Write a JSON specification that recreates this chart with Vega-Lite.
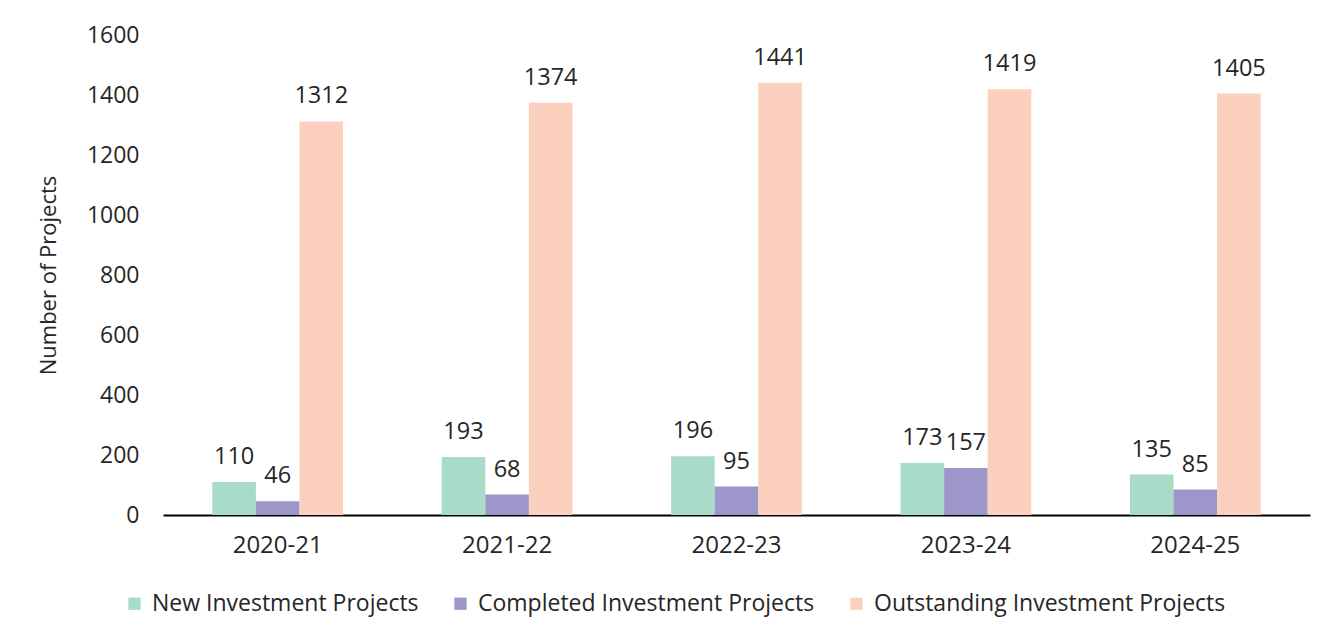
{
  "$schema": "https://vega.github.io/schema/vega-lite/v6.json",
  "width": 1147,
  "height": 480,
  "autosize": {"type": "none"},
  "padding": {"left": 163, "top": 35, "right": 27, "bottom": 128},
  "background": "white",
  "data": {"values": [
    {"year": "2020-21", "type": "New Investment Projects", "value": 110},
    {"year": "2020-21", "type": "Completed Investment Projects", "value": 46},
    {"year": "2020-21", "type": "Outstanding Investment Projects", "value": 1312},
    {"year": "2021-22", "type": "New Investment Projects", "value": 193},
    {"year": "2021-22", "type": "Completed Investment Projects", "value": 68},
    {"year": "2021-22", "type": "Outstanding Investment Projects", "value": 1374},
    {"year": "2022-23", "type": "New Investment Projects", "value": 196},
    {"year": "2022-23", "type": "Completed Investment Projects", "value": 95},
    {"year": "2022-23", "type": "Outstanding Investment Projects", "value": 1441},
    {"year": "2023-24", "type": "New Investment Projects", "value": 173},
    {"year": "2023-24", "type": "Completed Investment Projects", "value": 157},
    {"year": "2023-24", "type": "Outstanding Investment Projects", "value": 1419},
    {"year": "2024-25", "type": "New Investment Projects", "value": 135},
    {"year": "2024-25", "type": "Completed Investment Projects", "value": 85},
    {"year": "2024-25", "type": "Outstanding Investment Projects", "value": 1405}
  ]},
  "encoding": {
    "x": {
      "field": "year", "type": "nominal", "title": null,
      "scale": {"paddingInner": 0.43, "paddingOuter": 0.215},
      "axis": {"labelAngle": 0, "ticks": false, "domainColor": "#000000", "domainWidth": 2, "labelFontSize": 24, "labelPadding": 18, "labelColor": "#262626", "labelFont": "Open Sans"}
    },
    "xOffset": {"field": "type", "type": "nominal", "sort": ["New Investment Projects", "Completed Investment Projects", "Outstanding Investment Projects"]},
    "y": {
      "field": "value", "type": "quantitative", "title": "Number of Projects",
      "scale": {"domain": [0, 1600]},
      "axis": {"values": [0, 200, 400, 600, 800, 1000, 1200, 1400, 1600], "format": "d", "grid": false, "domain": false, "ticks": false, "labelFontSize": 23, "labelPadding": 24, "labelColor": "#262626", "labelFont": "Open Sans", "titleFont": "Open Sans", "titleFontSize": 22, "titleFontWeight": "normal", "titleColor": "#262626", "titlePadding": 26}
    }
  },
  "layer": [
    {
      "mark": {"type": "bar"},
      "encoding": {
        "color": {
          "field": "type", "type": "nominal",
          "sort": ["New Investment Projects", "Completed Investment Projects", "Outstanding Investment Projects"],
          "scale": {"domain": ["New Investment Projects", "Completed Investment Projects", "Outstanding Investment Projects"], "range": ["#A9DCC8", "#9D96CA", "#FBD0BE"]},
          "legend": {"title": null, "orient": "none", "direction": "horizontal", "legendX": -40, "legendY": 557, "symbolType": "square", "symbolSize": 150, "symbolStrokeWidth": 0, "labelFontSize": 23, "labelFont": "Open Sans", "labelColor": "#262626", "columnPadding": 30, "labelOffset": 6, "labelLimit": 500}
        }
      }
    },
    {
      "mark": {"type": "text", "baseline": "bottom", "dy": -13, "fontSize": 23.5, "font": "Open Sans", "color": "#262626"},
      "encoding": {"text": {"field": "value", "type": "quantitative"}}
    }
  ],
  "config": {"view": {"stroke": null}}
}
